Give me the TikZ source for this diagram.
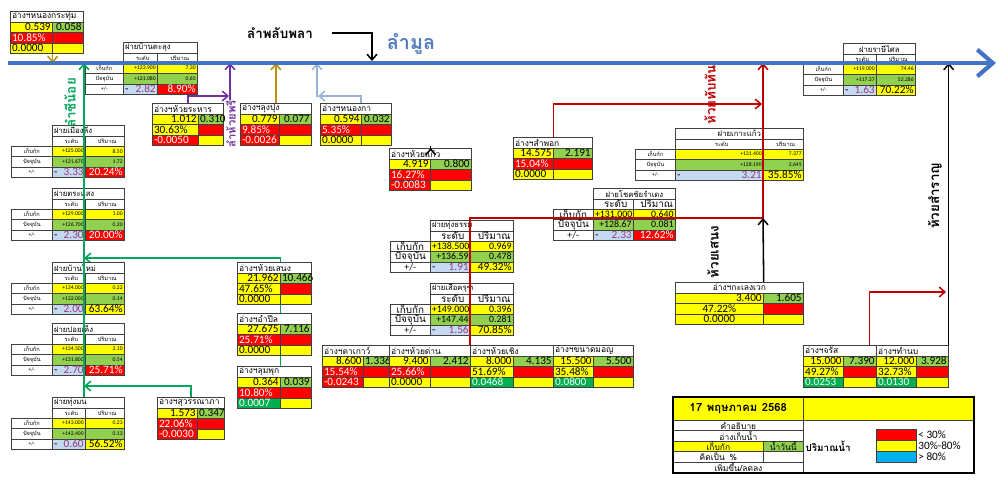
\documentclass[tikz,border=0pt]{standalone}
\usepackage{fontspec}
\setmainfont{Carlito}
\newfontfamily\thai[Script=Thai]{Loma}
\usepackage{xcolor}
\usepackage{tikz}
\usetikzlibrary{arrows.meta}
\usetikzlibrary{backgrounds}

\definecolor{munblue}{RGB}{68,114,196}
\definecolor{labblue}{RGB}{84,125,190}
\definecolor{cyel}{RGB}{255,255,0}
\definecolor{cgrn}{RGB}{146,208,80}
\definecolor{cdgn}{RGB}{0,176,80}
\definecolor{cred}{RGB}{255,0,0}
\definecolor{cblu}{RGB}{197,217,241}
\definecolor{ccyan}{RGB}{0,176,240}
\definecolor{diffcol}{RGB}{150,60,120}
\definecolor{lnred}{RGB}{192,0,0}
\definecolor{lngrn}{RGB}{0,166,90}
\definecolor{lnpur}{RGB}{112,48,160}
\definecolor{lngold}{RGB}{191,144,0}
\definecolor{lnlblu}{RGB}{149,179,215}
\definecolor{cellln}{RGB}{64,64,64}

\newcommand\fnum{\fontsize{8}{9}\selectfont}
\newcommand\fsml{\fontsize{4}{5}\selectfont}
\newcommand\fbig{\fontsize{7}{8}\selectfont}
\newcommand\fhead{\thai\fontsize{6}{7}\selectfont}

\tikzset{
  cellbox/.style={draw=cellln,line width=0.5pt,inner xsep=1.2pt,inner ysep=0pt,anchor=north west,text=black},
  fy/.style={fill=cyel}, fg/.style={fill=cgrn}, fr/.style={fill=cred,text=white},
  fd/.style={fill=cdgn,text=white}, fw/.style={fill=white}, fb/.style={fill=cblu},
  fc/.style={fill=ccyan},
  stream/.style={line width=1.1pt,->},
  rotlab/.style={rotate=90,inner sep=1pt,font=\thai\bfseries\fontsize{9.5}{11}\selectfont},
}

\newcommand\putcell[8]{%
  \pgfmathsetlengthmacro\cellw{(#4)*0.025cm-2.4pt}%
  \pgfmathsetlengthmacro\cellh{(#5)*0.025cm}%
  \node[cellbox,#6,text width=\cellw,minimum height=\cellh,align=#7] (#1) at ({#2},{#3}) {\mbox{#8}};}

\newcommand\angcard[7]{%
  \def\aid{#1}\def\ax{#2}\def\ay{#3}\def\awl{#4}\def\awr{#5}%
  \putcell{#1}{#2}{#3}{#4+#5}{10.5}{fw}{#7}{\fhead #6}}
\newcommand\angrow[6]{%
  \putcell{\aid-#1l}{\ax}{\ay+10.5*#1}{\awl}{10.5}{#3}{#2}{\fnum #4}%
  \putcell{\aid-#1r}{\ax+\awl}{\ay+10.5*#1}{\awr}{10.5}{#5}{right}{\fnum #6}}

\newcommand\faicard[9]{%
  \def\fid{#1}\def\fx{#2}\def\fy{#3}\def\fwa{#4}\def\fwb{#5}\def\fwc{#6}\def\fsz{#8}%
  \putcell{#1}{#2+#4}{#3}{#5+#6}{10.5}{fw}{#9}{\thai\fontsize{5.5}{6.5}\selectfont #7}%
  \putcell{#1-hl}{#2+#4}{#3+10.5}{#5}{10}{fw}{center}{\thai#8 ระดับ}%
  \putcell{#1-hr}{#2+#4+#5}{#3+10.5}{#6}{10}{fw}{center}{\thai#8 ปริมาณ}}
\newcommand\fairows[7]{%
  \putcell{\fid-1a}{\fx}{\fy+20.5}{\fwa}{10.5}{fw}{center}{\thai\fsz เก็บกัก}%
  \putcell{\fid-1b}{\fx+\fwa}{\fy+20.5}{\fwb}{10.5}{fy}{right}{\fsz #1}%
  \putcell{\fid-1c}{\fx+\fwa+\fwb}{\fy+20.5}{\fwc}{10.5}{fy}{right}{\fsz #2}%
  \putcell{\fid-2a}{\fx}{\fy+31}{\fwa}{10.5}{fw}{center}{\thai\fsz ปัจจุบัน}%
  \putcell{\fid-2b}{\fx+\fwa}{\fy+31}{\fwb}{10.5}{fg}{right}{\fsz #3}%
  \putcell{\fid-2c}{\fx+\fwa+\fwb}{\fy+31}{\fwc}{10.5}{fg}{right}{\fsz #4}%
  \putcell{\fid-3a}{\fx}{\fy+41.5}{\fwa}{10.5}{fw}{center}{\fsz +/-}%
  \putcell{\fid-3b}{\fx+\fwa}{\fy+41.5}{\fwb}{10.5}{fb}{left}{\makebox[\linewidth]{\fnum -\hfill\textcolor{diffcol}{#5}}}%
  \putcell{\fid-3c}{\fx+\fwa+\fwb}{\fy+41.5}{\fwc}{10.5}{#7}{right}{\fnum #6}}

\begin{document}
\begin{tikzpicture}[x=0.025cm,y=-0.025cm,>={Straight Barb[length=4pt,width=7pt]}]
\useasboundingbox (0,0) rectangle (1000,483);
\coordinate (mun-w) at (8,63);
\coordinate (mun-e) at (996,63);
\coordinate (gj1) at (84,258);
\coordinate (gj2) at (84,386);
\coordinate (lcn) at (84,397);
\coordinate (pr0) at (230,100);
\coordinate (prj) at (229,96);
\coordinate (lb0) at (317,97);
\coordinate (lbj) at (318,96);
\coordinate (rj1) at (762,104);
\coordinate (rtb) at (763,218);
\coordinate (sj) at (946,292);
\coordinate (plm) at (372,61);

\angcard{nkt}{10}{11}{42}{31}{อ่างฯหนองกระทุ่ม}{left}
\angrow{1}{right}{fy}{0.539}{fg}{0.058}
\angrow{2}{left}{fr}{10.85\%}{fr}{}
\angrow{3}{left}{fy}{0.0000}{fy}{}

\angcard{hrh}{152}{103}{46}{25}{อ่างฯห้วยระหาร}{left}
\angrow{1}{right}{fy}{1.012}{fg}{0.310}
\angrow{2}{left}{fy}{30.63\%}{fr}{}
\angrow{3}{left}{fr}{-0.0050}{fy}{}

\angcard{lpg}{240}{103}{39}{32}{อ่างฯลุงปุง}{left}
\angrow{1}{right}{fy}{0.779}{fg}{0.077}
\angrow{2}{left}{fr}{9.85\%}{fr}{}
\angrow{3}{left}{fr}{-0.0026}{fy}{}

\angcard{nkk}{320}{103}{41}{30}{อ่างฯหนองกา}{left}
\angrow{1}{right}{fy}{0.594}{fg}{0.032}
\angrow{2}{left}{fr}{5.35\%}{fr}{}
\angrow{3}{left}{fy}{0.0000}{fy}{}

\angcard{hkw}{389}{148}{41}{41}{อ่างฯห้วยแก้ว}{left}
\angrow{1}{right}{fy}{4.919}{fg}{0.800}
\angrow{2}{left}{fr}{16.27\%}{fr}{}
\angrow{3}{left}{fr}{-0.0083}{fy}{}

\angcard{spk}{513}{137}{40}{39}{อ่างฯสำพอก}{left}
\angrow{1}{right}{fy}{14.575}{fg}{2.191}
\angrow{2}{left}{fr}{15.04\%}{fr}{}
\angrow{3}{left}{fy}{0.0000}{fy}{}

\angcard{hsn}{237}{262}{43}{31}{อ่างฯห้วยเสนง}{left}
\angrow{1}{right}{fy}{21.962}{fg}{10.466}
\angrow{2}{left}{fy}{47.65\%}{fr}{}
\angrow{3}{left}{fy}{0.0000}{fy}{}

\angcard{apl}{237}{313}{43}{31}{อ่างฯอำปึล}{left}
\angrow{1}{right}{fy}{27.675}{fg}{7.116}
\angrow{2}{left}{fr}{25.71\%}{fr}{}
\angrow{3}{left}{fy}{0.0000}{fy}{}

\angcard{lpk}{237}{366}{43}{31}{อ่างฯลุมพุก}{left}
\angrow{1}{right}{fy}{0.364}{fg}{0.039}
\angrow{2}{left}{fr}{10.80\%}{fr}{}
\angrow{3}{left}{fd}{0.0007}{fy}{}

\angcard{swn}{157}{397}{40}{27}{อ่างฯสุวรรณาภา}{left}
\angrow{1}{right}{fy}{1.573}{fg}{0.347}
\angrow{2}{left}{fr}{22.06\%}{fr}{}
\angrow{3}{left}{fr}{-0.0030}{fy}{}

\angcard{tkw}{322}{345}{41}{26}{อ่างฯตาเกาว์}{left}
\angrow{1}{right}{fy}{8.600}{fg}{1.336}
\angrow{2}{left}{fr}{15.54\%}{fr}{}
\angrow{3}{left}{fr}{-0.0243}{fy}{}

\angcard{hdn}{389}{345}{41}{40}{อ่างฯห้วยด่าน}{left}
\angrow{1}{right}{fy}{9.400}{fg}{2.412}
\angrow{2}{left}{fr}{25.66\%}{fr}{}
\angrow{3}{left}{fy}{0.0000}{fy}{}

\angcard{hch}{470}{345}{43}{40}{อ่างฯห้วยเชิง}{left}
\angrow{1}{right}{fy}{8.000}{fg}{4.135}
\angrow{2}{left}{fy}{51.69\%}{fr}{}
\angrow{3}{left}{fd}{0.0468}{fy}{}

\angcard{knm}{553}{345}{40}{40}{อ่างฯขนาดมอญ}{left}
\angrow{1}{right}{fy}{15.500}{fg}{5.500}
\angrow{2}{left}{fy}{35.48\%}{fr}{}
\angrow{3}{left}{fd}{0.0800}{fy}{}

\angcard{klw}{675}{282}{88}{40}{อ่างฯกะเลงเวก}{center}
\angrow{1}{right}{fy}{3.400}{fg}{1.605}
\angrow{2}{center}{fy}{47.22\%}{fr}{}
\angrow{3}{center}{fy}{0.0000}{fy}{}

\angcard{jrs}{803}{345}{40}{33}{อ่างฯจรัส}{left}
\angrow{1}{right}{fy}{15.000}{fg}{7.390}
\angrow{2}{left}{fy}{49.27\%}{fr}{}
\angrow{3}{left}{fd}{0.0253}{fy}{}

\angcard{tnb}{876}{345}{40}{32}{อ่างฯทำนบ}{left}
\angrow{1}{right}{fy}{12.000}{fg}{3.928}
\angrow{2}{left}{fy}{32.73\%}{fr}{}
\angrow{3}{left}{fd}{0.0130}{fy}{}

\faicard{btl}{85}{42}{38}{34}{40}{ฝายบ้านตะลุง}{\fsml}{left}
\fairows{+123.900}{7.30}{+121.080}{0.65}{2.82}{8.90\%}{fr}
\faicard{rsl}{803}{43}{40}{33}{39}{ฝายราษีไศล}{\fsml}{center}
\fairows{+119.000}{74.46}{+117.37}{52.286}{1.63}{70.22\%}{fy}
\faicard{kkw}{635}{128}{40}{88}{40}{ฝายเกาะแก้ว}{\fsml}{center}
\fairows{+131.400}{7.377}{+128.190}{2.645}{3.21}{35.85\%}{fy}
\faicard{mlg}{11}{125}{41}{33}{39}{ฝายเมืองลีง}{\fsml}{left}
\fairows{+125.000}{8.50}{+121.670}{1.72}{3.33}{20.24\%}{fr}
\faicard{tsg}{11}{188}{41}{33}{39}{ฝายตระแสง}{\fsml}{left}
\fairows{+129.000}{1.00}{+126.700}{0.20}{2.30}{20.00\%}{fr}
\faicard{bmi}{11}{262}{41}{33}{39}{ฝายบ้านใหม่}{\fsml}{left}
\fairows{+134.000}{0.22}{+132.000}{0.14}{2.00}{63.64\%}{fy}
\faicard{pyk}{11}{323}{41}{33}{39}{ฝายปอยเค็ง}{\fsml}{left}
\fairows{+134.500}{2.10}{+131.800}{0.54}{2.70}{25.71\%}{fr}
\faicard{tmn}{11}{397}{41}{33}{39}{ฝายทุ่งมน}{\fsml}{left}
\fairows{+143.000}{0.23}{+142.400}{0.13}{0.60}{56.52\%}{fy}
\faicard{ttm}{390}{220}{40}{40}{43}{ฝายทุ่งธรรม}{\fbig}{left}
\fairows{+138.500}{0.969}{+136.59}{0.478}{1.91}{49.32\%}{fy}
\faicard{skt}{390}{283}{40}{40}{43}{ฝายเสือครุฑ}{\fbig}{left}
\fairows{+149.000}{0.396}{+147.44}{0.281}{1.56}{70.85\%}{fy}
\faicard{ccr}{553}{188}{40}{40}{42}{ฝายโชคชัยรำเดง}{\fbig}{center}
\fairows{+131.000}{0.640}{+128.67}{0.081}{2.33}{12.62\%}{fr}

\putcell{lgd}{673}{397}{130}{23}{fy}{center}{\thai\bfseries\fontsize{8}{9}\selectfont 17 พฤษภาคม 2568}
\putcell{lgd-r}{803}{397}{170}{23}{fy}{center}{}
\putcell{lgd-1}{673}{420}{130}{10.4}{fw}{center}{\fhead คำอธิบาย}
\putcell{lgd-2}{673}{430.4}{130}{10.4}{fw}{center}{\fhead อ่างเก็บน้ำ}
\putcell{lgd-3a}{673}{440.8}{90}{10.4}{fy}{center}{\fhead เก็บกัก}
\putcell{lgd-3b}{763}{440.8}{40}{10.4}{fg}{center}{\fhead น้ำวันนี้}
\putcell{lgd-4a}{673}{451.2}{90}{10.4}{fw}{center}{\fhead คิดเป็น \%}
\putcell{lgd-4b}{763}{451.2}{40}{10.4}{fw}{center}{}
\putcell{lgd-5}{673}{461.6}{130}{10.4}{fw}{center}{\fhead เพิ่มขึ้น/ลดลง}
\putcell{lgd-6}{803}{420}{170}{52}{fw}{left}{}
\node[anchor=west,inner sep=1pt,font=\thai\bfseries\fontsize{7}{8}\selectfont] (lgd-q) at (804,446) {ปริมาณน้ำ};
\putcell{sw1}{876}{429}{40}{11}{fr}{center}{}
\putcell{sw2}{876}{440}{40}{11}{fy}{center}{}
\putcell{sw3}{876}{451}{40}{11}{fc}{center}{}
\node[anchor=west,inner sep=1pt,font=\fnum] (sw1t) at (sw1.east) {< 30\%};
\node[anchor=west,inner sep=1pt,font=\fnum] (sw2t) at (sw2.east) {30\%-80\%};
\node[anchor=west,inner sep=1pt,font=\fnum] (sw3t) at (sw3.east) {> 80\%};
\draw[line width=1.2pt] (lgd.north west) rectangle (lgd-6.south east);

\begin{pgfonlayer}{background}
\draw[stream,lngrn] (lpk.north -| lpk-1l.east) |- (gj1);
\end{pgfonlayer}
\draw[stream,lngrn] (lcn) -- (lcn |- mun-w);
\draw[stream,lngrn] (swn.north) |- (gj2);
\draw[stream,lngold] (nkt-3l.south east) -- (nkt-3l.south east |- mun-w);
\draw[stream,lnpur] (pr0) -- (pr0 |- mun-w);
\draw[stream,lnpur] (hrh.north) |- (prj);
\draw[stream,lngold] (lpg.north) -- (lpg.north |- mun-w);
\draw[stream,lnlblu] (lb0) -- (lb0 |- mun-w);
\draw[stream,lnlblu] (nkk.north -| nkk-1r.west) |- (lbj);
\draw[stream,black] (hkw.north -| hkw-1l.east) -- (hkw.north -| hkw-1l.east |- mun-w);
\draw[stream,lnred] (spk.north -| spk-1l.east) |- (rj1);
\draw[stream,lnred] (hch.north west) |- (rtb) -- (rtb |- mun-w);
\draw[stream,black] (klw.north -| klw-1l.east) -- (rtb);
\draw[stream,lnred] ([xshift=-5pt]jrs.north east) |- (sj);
\draw[stream,black] (tnb.north east) -- (tnb.north east |- mun-w);

\node[font=\thai\bfseries\fontsize{14}{17}\selectfont,text=labblue] (mun) at (411,44) {ลำมูล};
\node[font=\thai\bfseries\fontsize{9.5}{11}\selectfont] (plb) at (280,33) {ลำพลับพลา};
\draw[stream,black] ([xshift=10pt]plb.east) -| (plm);
\node[rotlab,text=lngrn] (lcnlab) at (70,103) {ลำชีน้อย};
\node[rotlab,text=lnpur,font=\thai\bfseries\fontsize{8}{10}\selectfont] (prlab) at (231,124) {ลำห้วยพรี};
\node[rotlab,text=lnred] (tblab) at (710,95) {ห้วยทับทัน};
\node[rotlab] (snlab) at (713,252) {ห้วยเสนง};
\node[rotlab] (srlab) at (935,196) {ห้วยสำราญ};

\draw[munblue,line width=3pt,-{Straight Barb[length=11pt,width=19pt]}] (mun-w) -- (mun-e);
\end{tikzpicture}
\end{document}
